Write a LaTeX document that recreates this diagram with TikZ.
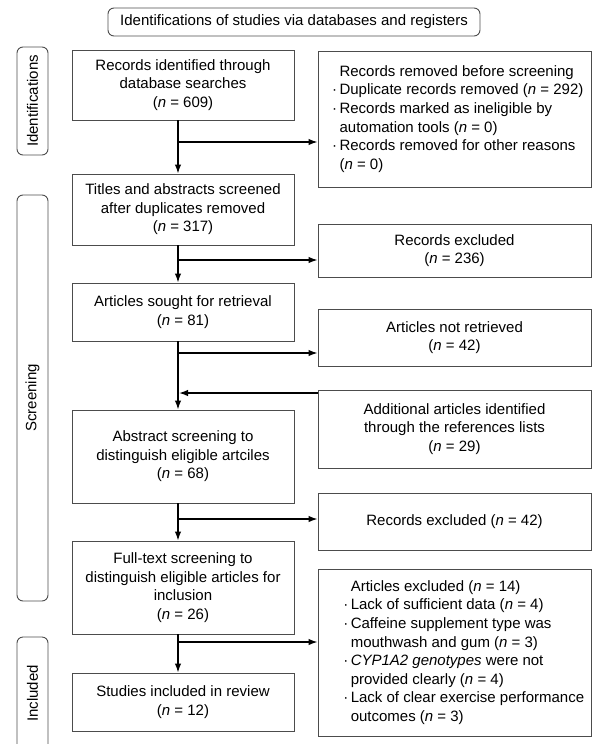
\documentclass[tikz,border=0pt]{standalone}
\usepackage{fontspec}
\setmainfont{Liberation Sans}
\usetikzlibrary{arrows.meta,positioning}
\newcommand{\ind}[1][14pt]{\hspace*{#1}}
\newcommand{\bul}[1][14pt]{\hspace*{#1}\llap{·\,}}

\begin{document}
\begin{tikzpicture}[x=1pt,y=-1pt,
  box/.style={draw=black!70,line width=0.9pt,align=center,inner sep=2pt,
    font=\fontsize{15}{18.6}\selectfont},
  lbox/.style={box,minimum width=222pt},
  rbox/.style={box,minimum width=273pt},
  side/.style={draw=black!70,line width=0.9pt,rounded corners=6pt,rotate=90,
    minimum height=31pt,inner sep=0pt,font=\fontsize{15}{18}\selectfont},
  arr/.style={-{Latex[length=9pt,width=6.5pt]},line width=1.4pt},
  ln/.style={line width=1.4pt}]
\useasboundingbox (0,0) rectangle (595,744);

% stage labels
\node[box,rounded corners=6pt,minimum width=372pt,minimum height=28pt] (title) at (294,22)
  {Identifications of studies via databases and registers};
\node[side,minimum width=108pt] (ident) at (32.5,101) {Identifications};
\node[side,minimum width=406pt] (scr) at (32.5,398) {Screening};
\node[side,minimum width=113pt] (incl) at (32.5,693.5) {Included};

% left column
\node[lbox,minimum height=70pt] (recid) at (183,85)
  {Records identified through\\database searches\\(\textit{n} = 609)};
\node[lbox,minimum height=71pt] (titabs) at (183,209.5)
  {Titles and abstracts screened\\after duplicates removed\\(\textit{n} = 317)};
\node[lbox,minimum height=58pt] (sought) at (183,312)
  {Articles sought for retrieval\\(\textit{n} = 81)};
\node[lbox,minimum height=93pt] (abscr) at (183,456.5)
  {Abstract screening to\\distinguish eligible artciles\\(\textit{n} = 68)};
\node[lbox,minimum height=93pt] (fulltxt) at (183,587.5)
  {Full-text screening to\\distinguish eligible articles for\\inclusion\\(\textit{n} = 26)};
\node[lbox,minimum height=58pt] (incstud) at (183,702)
  {Studies included in review\\(\textit{n} = 12)};

% right column
\node[rbox,minimum height=136pt,align=left] (removed) at (454.5,119)
  {\ind Records removed before screening\\
   \bul Duplicate records removed (\textit{n} = 292)\\
   \bul Records marked as ineligible by\\
   \ind automation tools (\textit{n} = 0)\\
   \bul Records removed for other reasons\\
   \ind (\textit{n} = 0)};
\node[rbox,minimum height=53pt] (recexcl) at (454.5,250.5)
  {Records excluded\\(\textit{n} = 236)};
\node[rbox,minimum height=57pt] (notret) at (454.5,337.5)
  {Articles not retrieved\\(\textit{n} = 42)};
\node[rbox,minimum height=78pt] (addart) at (454.5,429)
  {Additional articles identified\\through the references lists\\(\textit{n} = 29)};
\node[rbox,minimum height=57pt] (recexclb) at (454.5,521.5)
  {Records excluded (\textit{n} = 42)};
\node[rbox,minimum height=167pt,align=left] (artexcl) at (454.5,652.5)
  {\ind[26pt]Articles excluded (\textit{n} = 14)\\
   \bul[26pt]Lack of sufficient data (\textit{n} = 4)\\
   \bul[26pt]Caffeine supplement type was\\
   \ind[26pt]mouthwash and gum (\textit{n} = 3)\\
   \bul[26pt]\textit{CYP1A2 genotypes} were not\\
   \ind[26pt]provided clearly (\textit{n} = 4)\\
   \bul[26pt]Lack of clear exercise performance\\
   \ind[26pt]outcomes (\textit{n} = 3)};

% main line and branches
\coordinate (sp) at (178,0);
\coordinate (j1) at (178,142);
\coordinate (j2) at (178,260);
\coordinate (j3) at (178,353);
\coordinate (j4) at (179,393);
\coordinate (j5) at (178,519);
\coordinate (j6) at (178,642);

\draw[arr] (recid.south -| sp) -- (titabs.north -| sp);
\draw[arr] (titabs.south -| sp) -- (sought.north -| sp);
\draw[arr] (sought.south -| sp) -- (abscr.north -| sp);
\draw[arr] (abscr.south -| sp) -- (fulltxt.north -| sp);
\draw[arr] (fulltxt.south -| sp) -- (incstud.north -| sp);

\draw[arr] (j1) -- (j1 -| removed.west);
\draw[arr] (j2) -- (j2 -| recexcl.west);
\draw[arr] (j3) -- (j3 -| notret.west);
\draw[arr] (j4 -| addart.west) -- (j4);
\draw[arr] (j5) -- (j5 -| recexclb.west);
\draw[arr] (j6) -- (j6 -| artexcl.west);
\end{tikzpicture}
\end{document}
